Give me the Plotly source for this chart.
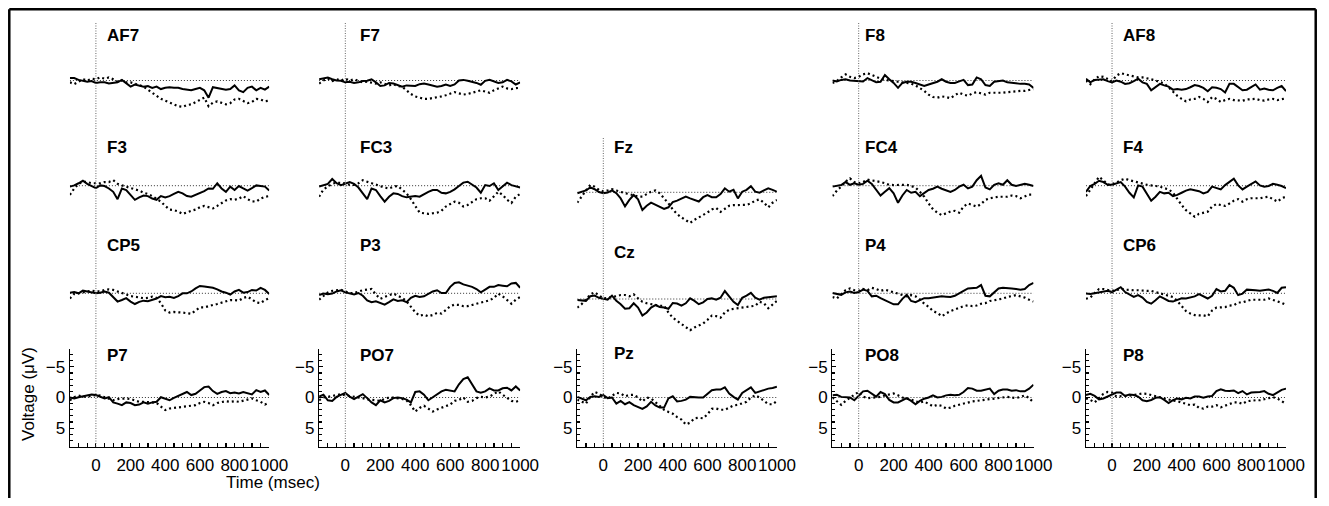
import plotly.graph_objects as go

# ---------------- data (µV, negative plotted upward) ----------------
TIME_MS = [-150, -125, -100, -75, -50, -25, 0, 25, 50, 75, 100, 125, 150, 175, 200, 225,
           250, 275, 300, 325, 350, 375, 400, 425, 450, 475, 500, 525, 550, 575, 600, 625,
           650, 675, 700, 725, 750, 775, 800, 825, 850, 875, 900, 925, 950, 975, 1000]

AF7_A = [-0.4,-0.4,-0.1,0,0.2,0.1,0.4,0.3,0.3,0.5, 0.4,0.3,-0.1,0.4,1.0,0.65,0.8,1.0,0.9,1.2,
         1.0,1.4,1.2,1.1,1.2,1.2,1.4,1.5,1.6,1.4, 1.2,1.6,2.8,1.1,1.2,1.4,1.5,1.4,0.8,1.6,
         1.9,1.2,1.0,1.6,1.2,1.5,1.0]
AF7_B = [0.3,0.6,0.2,-0.2,0.0,-0.3,-0.2,-0.5,-0.3,-0.5, -0.2,0.2,0.0,0.3,0.3,0.5,0.7,1.0,1.5,2.0,
         2.5,3.0,3.3,3.6,4.0,4.2,4.3,4.0,3.9,3.5, 3.1,2.8,4.2,3.6,3.4,3.6,3.9,3.7,3.1,3.0,
         3.4,3.7,3.5,3.0,3.1,3.4,3.3]
F7_A = [-0.2,-0.4,-0.5,-0.2,0,0.05,0.3,0.2,0.4,0.3, 0.1,0.05,-0.2,0.3,0.9,0.8,0.4,0.5,0.7,1.0,
        0.8,0.9,0.9,0.6,0.5,0.65,0.8,1.0,0.9,0.65, 0.9,0.65,0,-0.1,0.05,0.2,0.4,0.7,0.05,-0.1,
        0.1,0.4,0.3,-0.1,0.15,0.65,0.3]
F7_B = [0.5,0.0,-0.3,0.1,-0.2,0.0,-0.3,0.0,-0.2,0.1, 0.3,0.2,0.4,0.5,0.3,0.5,0.8,0.6,0.9,1.0,
        1.6,2.2,2.6,2.8,3.0,3.0,2.9,2.8,2.6,2.4, 2.1,1.9,2.1,2.3,2.2,2.0,1.8,1.6,1.8,2.0,
        1.6,1.3,1.0,1.3,1.4,1.25,1.2]
F8_A = [0,0.15,-0.1,-0.2,0,0.05,0.15,0.15,-0.4,0, 0.3,0.2,-0.9,-0.2,0.4,1.2,0.4,0.2,0.2,0.4,
        0.7,0.9,0.65,0.4,0.2,-0.2,0.2,0.4,0.4,0.15, -0.1,0.75,0.65,-0.5,-0.2,0.75,0.9,0.2,0.05,0,
        0.3,0.4,0.4,0.55,0.55,0.65,1.2]
F8_B = [0.4,0.1,-0.5,-1.0,-0.6,-0.4,-0.6,-1.0,-1.2,-0.9, -0.5,-0.3,-0.1,0.0,0.0,0.1,0.2,0.3,0.5,0.8,
        1.2,1.7,2.3,2.7,2.8,2.6,2.7,2.9,2.4,2.0, 2.3,2.5,2.1,1.9,2.1,2.3,2.0,2.0,2.1,2.0,
        1.9,1.8,1.8,1.7,1.7,1.6,1.4]
AF8_A = [-0.3,0.3,-0.1,-0.2,-0.2,0.1,0.3,0,0.2,0.55, 0.45,0.1,-0.3,0.3,0.55,1.6,1.1,0.55,0.8,1.0,
         1.5,1.4,1.5,1.4,1.1,0.75,0.9,1.2,1.75,1.1, 1.2,1.4,1.95,0.55,0.55,1.1,1.6,1.5,1.1,0.65,
         1.5,1.3,1.5,1.6,1.2,0.9,1.75]
AF8_B = [0.0,0.6,-0.2,-0.7,-0.6,-0.2,0.1,-0.8,-1.2,-1.0, -0.8,-0.6,-0.5,-0.5,-0.4,-0.2,0.0,0.2,0.5,1.1,
         1.8,2.5,3.0,3.4,3.1,3.0,2.7,3.0,3.5,2.7, 3.0,3.5,3.2,3.0,3.2,3.3,3.3,3.1,3.1,3.0,
         3.2,3.3,3.1,3.0,3.2,3.1,2.9]
F3_A = [0.15,-0.05,-0.4,-0.8,-0.3,0.05,0.4,-0.05,0.05,0.45, 1.0,2.2,0.45,0.7,1.5,2.3,1.9,1.6,1.7,2.1,
        2.3,1.7,1.9,1.7,1.35,1.0,1.25,1.7,1.8,1.5, 1.15,0.9,0.45,0.5,-0.4,0.45,1.0,0.15,0.7,0.05,
        0.45,0.8,0.4,-0.05,0.05,0.15,0.8]
F3_B = [1.5,0.45,-0.3,-0.65,-0.6,-0.4,-0.4,-0.4,-0.6,-0.6, -0.9,-0.3,-0.05,0.15,0.45,0.6,0.8,1.15,1.35,1.7,
        2.1,2.6,3.3,3.9,4.0,4.2,4.6,4.3,4.1,3.9, 3.5,3.3,3.5,3.7,3.3,2.9,2.4,2.2,2.3,2.1,
        1.7,2.2,2.55,2.6,2.1,1.8,1.7]
FC3_A = [0.15,-0.05,-0.3,-1.1,-0.4,-0.1,-0.3,-0.6,-0.3,0.3, 1.25,2.2,0.45,0.7,1.7,2.6,1.8,1.25,1.35,1.7,
         1.9,1.8,1.7,1.8,1.35,1.0,0.7,0.7,1.15,1.25, 1.0,0.6,0.05,-0.5,-0.65,-0.1,0.3,1.15,-0.1,0.05,
         -0.4,0.7,0.15,-0.5,-0.1,0.15,0.3]
FC3_B = [1.8,0.6,0.15,-0.3,-0.5,-0.5,-0.4,-0.15,-0.15,-0.4, -0.9,-0.65,-0.4,-0.1,0.15,0.3,0.45,0.15,0.05,0.6,
         1.25,2.2,3.4,4.4,4.5,4.6,4.5,4.4,4.1,3.4, 3.0,2.6,2.8,3.4,3.15,2.6,2.2,2.05,2.05,2.45,
         1.8,1.0,1.5,2.3,2.8,1.8,1.35]
FZ_A = [0.15,-0.05,-0.3,-0.8,-0.5,-0.05,0.15,0.05,-0.3,0.15, 1.0,2.3,1.25,0.45,1.15,2.9,2.2,1.7,2.0,2.3,
        2.7,2.45,1.6,1.35,1.0,0.7,1.0,1.25,1.5,0.8, 0.45,0.8,0.8,0.3,-0.65,-0.1,-0.4,1.0,-0.1,-0.4,
        -1.0,-0.1,0.05,-0.3,-0.65,-0.4,-0.1]
FZ_B = [1.7,0.6,-0.3,-1.2,-0.9,-0.4,-0.15,-0.3,-0.5,-0.3, -0.05,0.15,0.3,0.5,0.7,0.7,0.3,-0.1,-0.3,0.15,
        1.0,1.8,2.8,3.55,4.1,4.5,5.0,4.5,4.1,3.75, 3.3,2.8,2.55,3.2,2.7,2.2,2.1,2.05,2.05,2.05,
        1.8,1.35,1.15,1.7,2.45,1.7,1.25]
FC4_A = [0.15,0.05,-0.1,-0.6,-0.15,-0.4,-0.15,-0.3,-0.8,-0.3, 0.7,1.6,1.0,0.4,1.25,2.8,1.6,0.7,1.15,1.0,
         1.7,1.25,0.7,0.5,0.15,0.5,0.7,1.0,0.7,0.15, -0.15,0.45,0.15,-0.9,-1.6,0.3,0.6,-0.15,-0.4,-0.15,
         -0.9,-0.15,0.05,-0.1,-0.3,-0.15,0.05]
FC4_B = [1.7,0.8,0.15,-0.65,-1.2,-0.6,-0.4,-0.6,-1.0,-0.9, -0.8,-0.6,-0.4,-0.15,-0.1,-0.1,-0.15,-0.15,0.05,0.3,
         1.0,1.8,2.9,3.85,4.4,4.8,4.5,4.2,4.1,4.4, 3.4,2.9,3.15,3.4,3.0,2.3,2.05,1.9,1.8,1.8,
         1.8,1.6,1.7,2.05,1.8,1.45,1.45]
F4_A = [1.0,0.05,-0.3,-0.8,-0.6,-0.15,-0.15,-0.4,-0.6,0.15, 1.15,1.9,-0.05,0.15,1.35,2.45,1.8,1.0,1.25,1.15,
        1.7,1.5,1.15,0.8,0.6,0.7,0.9,1.25,1.0,0.15, 0.4,0.6,-0.1,-0.6,-1.15,-0.05,0.6,0.15,-0.3,-0.7,
        -0.05,0.15,0.05,-0.3,-0.15,0.05,0.4]
F4_B = [1.7,0.6,-0.4,-1.45,-0.9,-0.15,-0.3,-0.5,-0.9,-1.15, -0.9,-0.7,-0.6,-0.4,-0.15,-0.05,0.05,0.15,0.4,0.6,
        1.15,2.2,3.15,4.0,4.6,5.05,4.6,4.4,4.25,3.4, 3.0,3.15,3.3,2.9,2.45,2.2,2.6,2.2,2.05,2.05,
        2.05,1.9,1.8,2.2,2.6,2.05,1.8]
CP5_A = [-0.1,-0.2,0,-0.45,-0.3,-0.1,0,-0.1,-0.3,-0.1, 0.55,1.35,1.1,0.8,1.35,1.75,1.4,1.2,1.3,1.1,
         0.85,0.45,0.65,0.55,0.75,0.45,0,0,-0.3,-0.8, -1.2,-1.1,-1.0,-0.9,-0.65,-0.3,-0.1,0.2,-0.3,-0.55,
         -0.1,-0.2,-0.55,-0.45,-0.9,-0.55,0.1]
CP5_B = [0.85,0.1,0,-0.1,-0.3,-0.45,-0.3,-0.3,-0.55,-0.65, -0.55,-0.3,0,0.2,0.45,0.55,0.75,0.8,0.75,0.55,
         0.75,1.6,2.8,3.15,3.05,3.05,3.15,3.25,3.35,2.8, 2.3,2.3,2.05,1.9,1.75,1.5,1.35,1.1,1.1,1.2,
         0.75,0.55,1.0,1.5,1.6,1.1,0.8]
P3_A = [0.3,0.05,0.15,0.05,-0.3,-0.5,-0.15,0.05,0.2,-0.05, 0.4,1.15,1.45,1.3,1.6,1.85,1.45,1.0,1.25,1.15,
        1.45,0.75,0.4,0.6,0.5,0.15,-0.3,-0.5,-0.05,-0.05, -1.05,-1.7,-1.8,-1.45,-1.25,-1.05,-0.7,-0.15,-0.6,-1.05,
        -1.05,-1.35,-1.25,-1.15,-1.6,-1.7,-0.9]
P3_B = [1.05,0.4,-0.15,-0.4,-0.5,-0.6,-0.3,-0.05,-0.05,-0.3, -0.5,-0.6,-0.7,0.2,0.9,0.6,0.3,0.05,0.4,0.75,
        1.3,2.2,3.1,3.65,3.5,3.75,3.55,3.2,3.3,2.75, 2.1,1.85,1.9,2.1,2.1,1.9,1.7,1.6,1.35,1.15,
        0.75,0.05,0.5,1.15,1.7,1.05,0.6]
CZ_A = [0.15,0.2,0.3,-0.45,-0.55,-0.2,0,0.1,-0.55,0.3, 0.85,1.6,1.5,0.7,1.4,2.7,2.2,1.4,1.0,1.3,
        1.4,1.6,0.65,0.75,1.1,0.7,-0.1,0.3,0.85,0.55, 0,-0.1,0.1,-0.2,-1.3,-0.4,0.45,1.0,-0.2,-0.55,
        -1.0,-0.2,0.1,-0.2,-0.3,-0.45,-0.45]
CZ_B = [1.4,0.85,0.1,-0.75,-1.1,-0.65,-0.1,-0.2,-0.3,-0.45, -0.65,-0.65,-0.45,-0.75,-0.1,0.45,0.7,0.85,1.0,1.1,
        1.1,2.2,3.05,3.6,4.0,4.55,5.1,4.65,4.35,4.0, 3.4,2.7,2.8,3.05,2.2,1.75,1.6,1.5,1.4,1.3,
        1.3,1.1,0.45,0.7,1.5,0.85,0.3]
P4_A = [-0.05,0.05,0.25,-0.15,-0.3,-0.05,-0.2,-0.6,-0.4,0.5, 0.4,0.8,1.15,1.4,1.8,1.8,0.9,0.25,1.25,1.45,
        1.15,0.8,0.8,0.7,0.6,0.5,0.55,0.6,0.4,0.05, -0.4,-0.8,-0.8,-0.9,-1.35,0.4,0.5,-0.15,-0.8,-0.9,
        -0.9,-0.8,-0.7,-0.6,-0.7,-1.35,-1.7]
P4_B = [0.6,0.85,0.15,-0.5,-0.8,-0.5,-0.4,-0.7,-0.5,-0.9, -0.7,-0.4,-0.6,-0.4,-0.15,0.05,0.3,0.5,0.3,0.5,
        1.0,1.7,2.2,2.9,3.2,3.75,3.3,2.9,2.65,2.35, 2.1,1.95,2.1,2.0,1.7,1.6,1.25,1.15,1.05,0.85,
        0.6,0.4,0.3,0.5,0.7,1.05,1.35]
CP6_A = [0.05,0.1,0,-0.15,-0.3,-0.4,-0.2,-0.6,-1.0,-0.2, 0.15,0.6,0.3,0.7,1.4,1.7,1.15,0.5,0.85,1.25,
         1.35,1.05,0.8,0.85,0.7,0.5,0.15,0.5,0.85,0.4, -0.7,-0.3,-0.4,-1.35,-0.9,0.3,0.05,-0.6,-0.6,-0.5,
         -0.4,-0.5,-0.6,-0.4,-0.05,-0.9,-1.0]
CP6_B = [0.9,0.7,-0.05,-0.7,-0.7,-0.5,-0.4,-0.5,-0.75,-0.6, -0.5,-0.5,-0.5,-0.4,-0.4,-0.4,-0.2,-0.05,0.15,0.4,
         0.6,1.25,2.1,2.9,3.3,3.55,3.6,3.6,3.75,2.8, 2.35,2.25,2.25,2.0,1.95,1.5,1.5,1.25,1.05,1.05,
         1.1,1.05,0.85,1.05,1.25,1.55,1.9]
P7_A = [0,0.15,-0.05,-0.2,-0.4,-0.5,-0.4,-0.1,0.15,-0.05, 0.8,1.0,1.25,0.8,0.9,1.25,1.15,0.8,1.0,0.8,
        0.7,-0.05,0.15,0.45,0.05,-0.3,-0.6,-0.9,-0.4,-0.6, -1.15,-1.7,-1.8,-1.05,-0.6,-0.9,-1.05,-0.7,-0.8,-0.65,
        -0.9,-0.7,-0.5,-1.2,-0.9,-1.15,-0.4]
P7_B = [0.45,-0.05,-0.3,-0.15,-0.15,-0.3,-0.4,-0.3,-0.05,0.15, 0.45,0.25,0.15,0.15,0.25,0.5,0.7,0.7,0.7,0.8,
        0.9,1.5,2.05,1.8,1.7,1.7,1.5,1.45,1.35,1.25, 0.9,0.7,0.9,1.25,0.9,0.7,0.6,0.7,0.6,0.7,
        0.5,0.4,0.15,0.45,0.7,1.15,0.8]
PO7_A = [-0.15,-0.45,0.45,0.55,-0.1,-0.45,-0.75,-0.15,0.25,-0.15, -0.55,0.1,0.8,1.25,0.45,0.8,0.55,0.1,0,0.1,
         0.35,0.8,-0.9,-1.0,-0.45,0.45,0,-0.45,-1.0,-1.25, -1.15,-1.0,-2.15,-3.0,-3.3,-2.15,-1.0,-0.8,-1.0,-1.5,
         -1.15,-1.15,-1.5,-1.6,-1.15,-1.8,-1.15]
PO7_B = [0.45,0,-0.1,-0.25,-0.35,-0.55,-0.35,-0.25,-0.1,0, 0.1,0.3,0.4,0.45,0.55,0.25,0,0,0.1,0.25,
         0.45,1.25,2.3,1.7,1.35,1.8,2.3,1.95,1.7,1.5, 1.15,0.55,0.4,0,0.7,0.55,0.1,-0.1,0,-0.15,
         -0.55,-1.0,-0.45,0,0.55,0.7,0.45]
PZ_A = [-0.1,0.15,0.45,-0.1,-0.2,-0.1,-0.4,0.1,0,1.0, 0.55,1.1,0.75,1.25,1.55,1.85,1.45,0.7,1.3,1.65,
        1.65,0.15,-0.2,0.65,0.55,0.35,-0.1,0,0,0, -0.55,-1.2,-1.3,-1.3,-1.65,-0.65,-0.1,0.35,-0.75,-1.2,
        -1.65,-0.75,-1.0,-1.3,-1.45,-1.55,-1.75]
PZ_B = [0.35,0.7,1.0,-0.1,-0.9,-0.65,-0.1,0.2,-0.35,-0.75, -0.65,-0.2,-0.4,-0.45,0,0.65,0,0.15,0.75,1.3,
        2.0,2.35,2.65,3.2,3.6,4.4,4.1,3.4,3.3,3.4, 2.75,1.85,1.8,2.0,2.0,1.65,1.3,1.2,1.0,0.7,
        0,-0.35,0,0.55,1.1,1.1,0.55]
PO8_A = [-0.35,-0.45,-0.1,0,0,0.45,-0.2,-1.0,-1.1,-0.55, -0.15,-0.9,-0.55,0.4,0.8,0.8,0.4,0.1,0.55,1.1,
         0.55,0.2,0,-0.35,0,-0.1,-0.35,-0.45,-0.35,-0.45, -0.9,-1.55,-1.45,-1.1,-1.1,-1.3,-1.45,-0.55,-1.1,-1.3,
         -1.3,-1.1,-1.2,-1.0,-1.0,-1.45,-2.1]
PO8_B = [0,0.55,1.2,0.55,0,-0.45,-0.9,-0.15,0.1,0, 0,-0.1,-0.35,-0.55,-0.65,-0.35,0,0.2,0.35,0.65,
         0.8,0.65,1.0,1.45,1.2,1.35,1.8,1.65,1.35,1.15, 0.95,0.8,0.65,0.55,0.45,0.35,0.2,0.15,0.1,-0.1,
         -0.1,0,0.1,-0.1,-0.35,0.1,0.8]
P8_A = [-0.4,-0.6,-0.25,0.3,0.15,-0.15,-0.4,-0.8,-0.8,-0.25, -0.5,-0.4,-0.15,0.45,0.6,0.4,0.05,-0.05,0.4,0.9,
        0.45,0.15,0.3,0.05,0.15,-0.15,-0.15,0.05,-0.15,-0.25, -1.05,-1.35,-1.1,-1.05,-1.15,-0.7,-1.05,-0.5,-0.8,-0.8,
        -0.9,-1.05,-0.6,-0.4,-0.8,-1.25,-1.45]
P8_B = [0.15,0.4,0.8,0.15,-0.6,-0.9,-0.8,-0.15,-0.15,-0.25, -0.3,-0.4,-0.6,-0.65,-0.6,-0.4,-0.2,-0.05,0.15,0.3,
        0.5,0.6,0.8,1.05,1.25,1.15,1.7,1.8,1.5,1.5, 1.25,1.6,1.35,1.05,0.8,0.8,1.05,0.6,0.5,0.45,
        0.45,0.3,0.05,-0.05,0.15,0.6,1.05]

X_TICKS = [0, 200, 400, 600, 800, 1000]
Y_TICKS = [-5, 0, 5]
Y_TICK_TEXT = ["\u22125", "0", "5"]
X_RANGE = [-150, 1000]
Y_RANGE = [8, -8]  # reversed: negative up

# (label, column, row, solid series, dotted series)
PANELS = [
    ("AF7", 0, 0, AF7_A, AF7_B), ("F7", 1, 0, F7_A, F7_B), ("F8", 3, 0, F8_A, F8_B), ("AF8", 4, 0, AF8_A, AF8_B),
    ("F3", 0, 1, F3_A, F3_B), ("FC3", 1, 1, FC3_A, FC3_B), ("Fz", 2, 1, FZ_A, FZ_B), ("FC4", 3, 1, FC4_A, FC4_B),
    ("F4", 4, 1, F4_A, F4_B),
    ("CP5", 0, 2, CP5_A, CP5_B), ("P3", 1, 2, P3_A, P3_B), ("Cz", 2, 2, CZ_A, CZ_B), ("P4", 3, 2, P4_A, P4_B),
    ("CP6", 4, 2, CP6_A, CP6_B),
    ("P7", 0, 3, P7_A, P7_B), ("PO7", 1, 3, PO7_A, PO7_B), ("Pz", 2, 3, PZ_A, PZ_B), ("PO8", 3, 3, PO8_A, PO8_B),
    ("P8", 4, 3, P8_A, P8_B),
]

# ---------------- geometry ----------------
# Target positions are given in pixels of the 1329x506 picture.  The page keeps its
# 8px body margin and the captured page is ~1344px wide, scaled to 1329 horizontally,
# so x positions are converted with that factor.
WIN_W, WIN_H = 1329, 506
CAPTURE_W = 1344
SX = WIN_W / CAPTURE_W
PAGE_MARGIN = 8
FIG_W, FIG_H = CAPTURE_W - 2 * PAGE_MARGIN, WIN_H - 2 * PAGE_MARGIN
COL_LEFT = [70, 320, 579, 835, 1089.3]
COL_RIGHT = [270, 521.7, 779.3, 1036.7, 1290]
ROW_ZERO = [80.5, 185.7, 293.3, 397.5]
MID_ZERO = [None, 192.3, 299.0, 397.5]
HALF = 49
LABEL_X = [105, 359, 614, 866, 1124]
LABEL_Y = [35.5, 147.5, 245.5, 355]
MID_LABEL_Y = [None, 147.5, 252.5, 353]
VLINE_TOP = [22.5, 22.5, 137, 22.5, 22.5]
FONT = "Liberation Sans, Arial, Helvetica, sans-serif"


def fx(p):
    """picture x pixel -> paper fraction"""
    return (p / SX - PAGE_MARGIN) / FIG_W


def fy(p):
    """picture y pixel -> paper fraction"""
    return 1 - (p - PAGE_MARGIN) / FIG_H


fig = go.Figure()
shapes = []
annotations = []
layout_axes = {}
bottom_axis = {}

for k, (name, col, row, sa, sb) in enumerate(PANELS, start=1):
    xa = "x" if k == 1 else f"x{k}"
    ya = "y" if k == 1 else f"y{k}"
    zero = MID_ZERO[row] if col == 2 else ROW_ZERO[row]
    top, bot = zero - HALF, zero + HALF
    fig.add_trace(go.Scatter(x=TIME_MS, y=sb, xaxis=xa, yaxis=ya, mode="lines",
                             line=dict(color="black", width=2.2, dash="2px,3px"),
                             hoverinfo="skip", showlegend=False))
    fig.add_trace(go.Scatter(x=TIME_MS, y=sa, xaxis=xa, yaxis=ya, mode="lines",
                             line=dict(color="black", width=2),
                             hoverinfo="skip", showlegend=False))
    shapes.append(dict(type="line", xref=xa, yref=ya, x0=X_RANGE[0], x1=X_RANGE[1], y0=0, y1=0,
                       line=dict(color="#333", width=1, dash="1px,2px"), layer="below"))
    is_bottom = row == 3
    xax = dict(domain=[fx(COL_LEFT[col]), fx(COL_RIGHT[col])], range=X_RANGE, anchor=ya,
               showgrid=False, zeroline=False, fixedrange=True)
    yax = dict(domain=[fy(bot), fy(top)], range=Y_RANGE, anchor=xa,
               showgrid=False, zeroline=False, fixedrange=True)
    if is_bottom:
        bottom_axis[col] = xa
        xax.update(visible=True, showline=True, linecolor="black", linewidth=1.3,
                   ticks="inside", ticklen=4, tickwidth=1.2, tickcolor="black",
                   tickvals=X_TICKS, ticktext=[str(v) for v in X_TICKS], tickangle=0,
                   tickfont=dict(size=17, color="black", family=FONT), ticklabelstandoff=3,
                   minor=dict(ticks="inside", ticklen=4, tickwidth=1.2, tickcolor="black",
                              dtick=50, tick0=0, showgrid=False))
        yax.update(visible=True, showline=True, linecolor="black", linewidth=1.3,
                   ticks="inside", ticklen=4, tickwidth=1.2, tickcolor="black",
                   tickvals=Y_TICKS, ticktext=Y_TICK_TEXT, tickangle=0,
                   tickfont=dict(size=17, color="black", family=FONT),
                   minor=dict(ticks="inside", ticklen=3, tickwidth=1.1, tickcolor="black",
                              dtick=1, tick0=0, showgrid=False))
    else:
        xax.update(visible=False)
        yax.update(visible=False)
    layout_axes["xaxis" if k == 1 else f"xaxis{k}"] = xax
    layout_axes["yaxis" if k == 1 else f"yaxis{k}"] = yax
    ly = MID_LABEL_Y[row] if col == 2 else LABEL_Y[row]
    annotations.append(dict(text=f"<b>{name}</b>", xref="paper", yref="paper",
                            x=fx(LABEL_X[col]), y=fy(ly), xanchor="left", yanchor="middle",
                            showarrow=False, font=dict(size=17, color="black", family=FONT)))

# stimulus-onset dotted vertical lines (one per column)
for col in range(5):
    shapes.append(dict(type="line", xref=bottom_axis[col], yref="paper", x0=0, x1=0,
                       y0=fy(446.5), y1=fy(VLINE_TOP[col]),
                       line=dict(color="#666", width=1, dash="1px,1.5px")))

# outer frame (left, top, right), kept inside the drawable figure area
FL = max(6.2, (PAGE_MARGIN + 1.3) * SX)
FT = PAGE_MARGIN + 1.3
FR = min(1326.0, (PAGE_MARGIN + FIG_W - 1.3) * SX)
for (x0, y0, x1, y1) in [(FL, FT, FL, 530), (FL, FT, FR, FT), (FR, FT, FR, 530)]:
    shapes.append(dict(type="line", xref="paper", yref="paper", x0=fx(x0), y0=fy(y0),
                       x1=fx(x1), y1=fy(y1), line=dict(color="black", width=2.5)))

annotations.append(dict(text="Time (msec)", xref="paper", yref="paper", x=fx(274), y=fy(482),
                        xanchor="center", yanchor="middle", showarrow=False,
                        font=dict(size=17, color="black", family=FONT)))
annotations.append(dict(text="Voltage (\u03bcV)", xref="paper", yref="paper", x=fx(28), y=fy(394),
                        xanchor="center", yanchor="middle", showarrow=False, textangle=-90,
                        font=dict(size=17, color="black", family=FONT)))

fig.update_layout(width=FIG_W, height=FIG_H, margin=dict(l=0, r=0, t=0, b=0), autosize=False,
                  paper_bgcolor="white", plot_bgcolor="rgba(0,0,0,0)",
                  font=dict(family=FONT, color="black", size=17),
                  shapes=shapes, annotations=annotations, showlegend=False, **layout_axes)

fig.write_html("out.html", config={"displayModeBar": False, "staticPlot": True, "responsive": False})
